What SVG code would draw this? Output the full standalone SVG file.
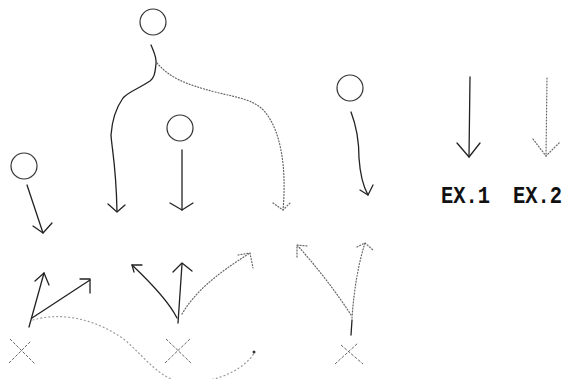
<svg xmlns="http://www.w3.org/2000/svg" width="570" height="379" viewBox="0 0 570 379">
<style>
.node{fill:none;stroke:#333;stroke-width:1.2}
.solid{fill:none;stroke:#222;stroke-width:1.3;stroke-linecap:round;stroke-linejoin:round}
.dot{fill:none;stroke:#666;stroke-width:1.2;stroke-dasharray:1 2;stroke-linecap:round}
.faint{stroke:#999;stroke-dasharray:1 3}
.x{fill:none;stroke:#666;stroke-width:1;stroke-dasharray:3 1.5}
.lbl{font-family:"Liberation Mono",monospace;font-weight:bold;font-size:24px;fill:#111}
</style>
<rect width="570" height="379" fill="#fff"/>
<g id="circle-top"><circle class="node" cx="153" cy="22" r="13"/></g>
<g id="circle-mid"><circle class="node" cx="180" cy="128" r="13"/></g>
<g id="circle-left"><circle class="node" cx="24" cy="166" r="13"/></g>
<g id="circle-right"><circle class="node" cx="350" cy="88" r="13"/></g>
<g id="x-left"><path class="x" d="M10 339 L35 364 M9 363 L31 341"/></g>
<g id="x-mid"><path class="x" d="M166 339 L192 364 M165 363 L191 338"/></g>
<g id="x-right"><path class="x" d="M341 345 L363 364 M335 364 L358 343"/></g>
<g id="legend-ex1"><text class="lbl" x="441" y="203" textLength="49" lengthAdjust="spacingAndGlyphs">EX.1</text></g>
<g id="legend-ex2"><text class="lbl" x="513" y="203" textLength="49" lengthAdjust="spacingAndGlyphs">EX.2</text></g>
<g id="connectors">
  <path class="solid" d="M151 45 C154 52 157 58 156 64 C155 72 155 77 150 81 C140 88 128 92 123 98 C116 108 112 120 111 135 C112 150 116 165 117 211"/>
  <path class="solid" d="M108 204 L117 212 L125 205"/>
  <path class="dot" d="M157 63 C170 78 185 84 215 92 C240 98 255 100 265 112 C280 130 287 165 283 210"/>
  <path class="dot" d="M273 203 L283 210 L290 203"/>
  <path class="solid" d="M182 150 L182 210"/>
  <path class="solid" d="M170 203 L182 210 L193 203"/>
  <path class="solid" d="M27 185 L43 233"/>
  <path class="solid" d="M33 226 L43 233 L52 223"/>
  <path class="solid" d="M351 112 C356 125 359 140 359 158 C360 173 363 186 368 195"/>
  <path class="solid" d="M360 190 L368 195 L373 185"/>
  <path class="solid" d="M470 77 L469 157"/>
  <path class="solid" d="M457 143 L469 157 L480 143"/>
  <path class="dot" d="M547 78 L546 156"/>
  <path class="dot" d="M533 139 L546 156 L560 142"/>
  <path class="solid" d="M29 327 L44 273"/>
  <path class="solid" d="M35 281 L44 273 L49 285"/>
  <path class="solid" d="M32 318 L90 280"/>
  <path class="solid" d="M80 279 L90 279 L90 293"/>
  <path class="dot faint" d="M33 320 C60 312 95 318 125 340 C150 362 165 388 200 382 C225 378 245 368 255 352"/>
  <circle cx="254" cy="352" r="1.5" fill="#333"/>
  <path class="solid" d="M178 323 L182 264"/>
  <path class="solid" d="M173 272 L182 263 L192 271"/>
  <path class="solid" d="M177 318 C168 300 150 282 132 265"/>
  <path class="solid" d="M132 265 L142 265 M132 265 L134 272"/>
  <path class="dot" d="M182 314 C195 292 215 275 250 253"/>
  <path class="dot" d="M238 255 L250 253 L253 268"/>
  <path class="solid" d="M351 335 L352 320"/>
  <path class="dot" d="M352 318 C354 290 358 265 365 243"/>
  <path class="dot" d="M357 247 L365 243 L373 250"/>
  <path class="dot" d="M351 315 C335 290 315 265 297 245"/>
  <path class="dot" d="M307 246 L297 245 L297 258"/>
</g>
</svg>
